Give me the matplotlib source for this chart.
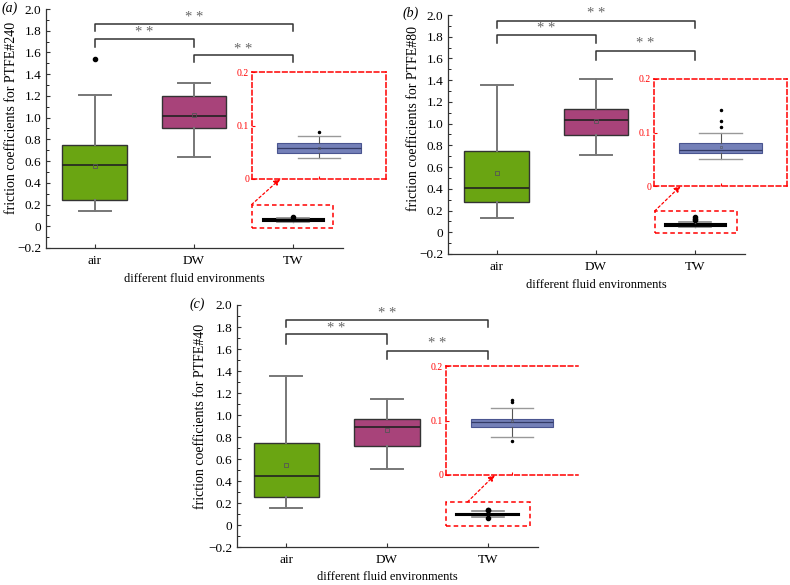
import numpy as np
import matplotlib
matplotlib.use("Agg")
import matplotlib.pyplot as plt
from matplotlib.patches import Rectangle
from matplotlib.ticker import MultipleLocator

plt.rcParams["font.family"] = ["Liberation Serif", "DejaVu Serif"]

categories = ["air", "DW", "TW"]
panel_labels = ["(a)", "(b)", "(c)"]
ylabels = ["friction coefficients for PTFE#240",
           "friction coefficients for PTFE#80",
           "friction coefficients for PTFE#40"]

# box stats per panel: [whislo, q1, med, q3, whishi, mean], outliers
air_stats = [[0.137, 0.238, 0.565, 0.751, 1.212, 0.559],
             [0.132, 0.282, 0.411, 0.752, 1.356, 0.549],
             [0.158, 0.255, 0.442, 0.745, 1.352, 0.545]]
air_fliers = [[1.542], [], []]
dw_stats = [[0.638, 0.904, 1.011, 1.203, 1.322, 1.026],
            [0.715, 0.896, 1.034, 1.132, 1.414, 1.021],
            [0.512, 0.721, 0.888, 0.967, 1.142, 0.864]]
dw_fliers = [[], [], []]
tw_stats = [[0.039, 0.049, 0.058, 0.067, 0.080, 0.058],
            [0.050, 0.062, 0.067, 0.080, 0.099, 0.073],
            [0.070, 0.088, 0.097, 0.103, 0.123, 0.100]]
tw_fliers = [[0.088], [0.110, 0.121, 0.142], [0.062, 0.134, 0.138]]

# significance brackets: (x1, x2, bar y, leg y, star y)
brackets = [
    [(0, 2, 1.86, 1.80, 1.92), (0, 1, 1.72, 1.65, 1.78), (1, 2, 1.58, 1.51, 1.63)],
    [(0, 2, 1.945, 1.88, 2.01), (0, 1, 1.82, 1.74, 1.88), (1, 2, 1.67, 1.59, 1.74)],
    [(0, 2, 1.86, 1.80, 1.92), (0, 1, 1.74, 1.65, 1.79), (1, 2, 1.58, 1.51, 1.65)],
]

colors = ["#6aa512", "#a8437a", "#7480b8"]

W, H = 790, 585
# axes boxes in pixels: left, top, right, bottom
main_px = [(46, 9, 343, 248), (448, 15, 745, 254), (237, 305, 538, 547)]
inset_px = [(252, 72, 386, 179), (654, 79, 787, 186), (446, 366, 578, 475)]
label_px = [(2, 8), (403, 13), (190, 304)]
ylabel_pos = [(-0.094, 0.545), (-0.094, 0.565), (-0.10, 0.54)]
zoom_rect = [(1.58, -0.02, 2.40, 0.20), (1.59, -0.007, 2.42, 0.195), (1.59, -0.01, 2.42, 0.21)]
arrow_start = [(1.58, 0.20), (1.59, 0.195), (1.80, 0.21)]
arrow_end = [0.21, 0.20, 0.37]


def px_rect(l, t, r, b):
    return [l / W, 1 - b / H, (r - l) / W, (b - t) / H]


def make_stat(s, fl):
    return dict(whislo=s[0], q1=s[1], med=s[2], q3=s[3], whishi=s[4], mean=s[5], fliers=fl)


fig = plt.figure(figsize=(W / 100, H / 100), dpi=100)

for i in range(3):
    ax = fig.add_axes(px_rect(*main_px[i]))
    stats = [make_stat(air_stats[i], air_fliers[i]), make_stat(dw_stats[i], dw_fliers[i])]
    bp = ax.bxp(stats, positions=[0, 1], widths=0.65, patch_artist=True, showmeans=True,
                capwidths=0.32,
                boxprops=dict(edgecolor="#333333", linewidth=1.0),
                medianprops=dict(color="#222222", linewidth=1.2),
                whiskerprops=dict(color="#777777", linewidth=1.4),
                capprops=dict(color="#777777", linewidth=1.4),
                meanprops=dict(marker="s", markersize=3.5, markerfacecolor="none",
                               markeredgecolor="#555555", markeredgewidth=0.6),
                flierprops=dict(marker="o", markersize=3, markerfacecolor="black",
                                markeredgecolor="black"))
    for patch, c in zip(bp["boxes"], colors[:2]):
        patch.set_facecolor(c)

    # TW shown compressed in the main axes
    ax.bxp([make_stat(tw_stats[i], tw_fliers[i])], positions=[2], widths=0.62,
           patch_artist=True, showmeans=False, capwidths=0.32,
           boxprops=dict(facecolor="black", edgecolor="black", linewidth=1.5),
           medianprops=dict(color="black", linewidth=2.0),
           whiskerprops=dict(color="#666666", linewidth=1.0),
           capprops=dict(color="#888888", linewidth=1.2),
           flierprops=dict(marker="o", markersize=3, markerfacecolor="black",
                           markeredgecolor="black"))

    ax.set_xlim(-0.49, 2.5)
    ax.set_ylim(-0.2, 2.0)
    ax.set_xticks([0, 1, 2])
    ax.set_xticklabels(categories)
    ax.yaxis.set_major_locator(MultipleLocator(0.2))
    ax.yaxis.set_minor_locator(MultipleLocator(0.1))
    ax.set_yticklabels(["\u22120.2" if abs(v + 0.2) < 1e-6 else ("0" if abs(v) < 1e-6 else f"{v:.1f}")
                        for v in ax.get_yticks()])
    ax.tick_params(direction="in", labelsize=9.5, length=3, width=0.8, color="#333333")
    ax.tick_params(which="minor", direction="in", length=2, width=0.6)
    ax.tick_params(axis="x", pad=5)
    for s in ["top", "right"]:
        ax.spines[s].set_visible(False)
    for s in ["left", "bottom"]:
        ax.spines[s].set_color("#333333")
        ax.spines[s].set_linewidth(0.9)
    ax.set_ylabel(ylabels[i], fontsize=10)
    ax.yaxis.set_label_coords(*ylabel_pos[i])
    ax.set_xlabel("different fluid environments", fontsize=9, labelpad=4)

    for x1, x2, yb, yl, ys in brackets[i]:
        ax.plot([x1, x1, x2, x2], [yl, yb, yb, yl], color="#333333", lw=1.1, clip_on=False)
        ax.text((x1 + x2) / 2, ys, "* *", ha="center", va="center", fontsize=10.5,
                color="#666666", clip_on=False)

    r = zoom_rect[i]
    ax.add_patch(Rectangle((r[0], r[1]), r[2] - r[0], r[3] - r[1], fill=False,
                           edgecolor="red", linestyle=(0, (3, 2)), linewidth=1.1, clip_on=False))

    fx, fy = label_px[i]
    fig.text(fx / W, 1 - fy / H, panel_labels[i], fontsize=10, style="italic",
             ha="left", va="center")

    # zoomed inset
    ins = fig.add_axes(px_rect(*inset_px[i]))
    ins.patch.set_alpha(0)
    ins.bxp([make_stat(tw_stats[i], tw_fliers[i])], positions=[0], widths=1.25,
            patch_artist=True, showmeans=True, capwidths=0.64,
            boxprops=dict(facecolor=colors[2], edgecolor="#4a5590", linewidth=0.8),
            medianprops=dict(color="#333a66", linewidth=0.9),
            whiskerprops=dict(color="#555555", linewidth=0.8),
            capprops=dict(color="#999999", linewidth=1.0),
            meanprops=dict(marker="s", markersize=2, markerfacecolor="none",
                           markeredgecolor="#555555", markeredgewidth=0.4),
            flierprops=dict(marker="o", markersize=1.5, markerfacecolor="black",
                            markeredgecolor="black"))
    ins.set_xlim(-1, 1)
    ins.set_ylim(0, 0.2)
    ins.set_xticks([0])
    ins.set_xticklabels([])
    ins.set_yticks([0, 0.1, 0.2])
    ins.set_yticklabels(["0", "0.1", "0.2"])
    ins.tick_params(direction="in", length=2.5, width=0.8, colors="red", labelsize=7, pad=2)
    for s in ins.spines.values():
        s.set_color("red")
        s.set_linestyle((0, (3, 2)))
        s.set_linewidth(1.1)
    if i == 2:
        ins.spines["right"].set_visible(False)

    ax.annotate("", xy=(arrow_end[i], 0), xycoords=ins.transAxes,
                xytext=arrow_start[i], textcoords="data",
                arrowprops=dict(arrowstyle="-|>", color="red", lw=0.9,
                                linestyle=(0, (2, 2)), mutation_scale=9,
                                shrinkA=0, shrinkB=0))

fig.savefig("out.png", dpi=100)
